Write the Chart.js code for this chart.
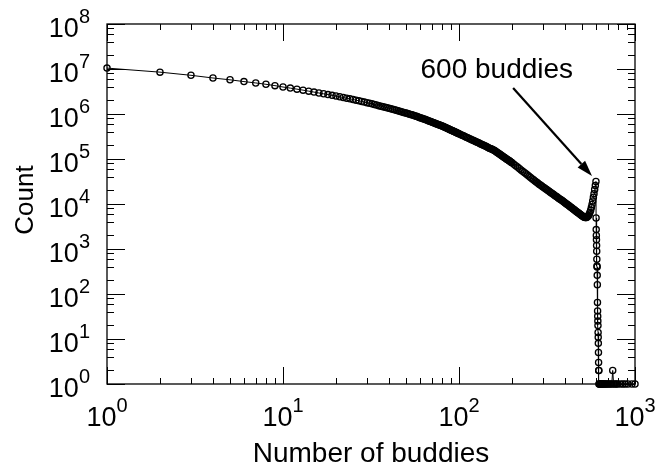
<!DOCTYPE html>
<html>
<head>
<meta charset="utf-8">
<script src="https://cdn.jsdelivr.net/npm/chart.js@4/dist/chart.umd.min.js"></script>
<style>
  html, body { margin: 0; padding: 0; background: #fff; }
  canvas { display: block; }
</style>
</head>
<body>
<canvas id="chart" width="658" height="473"></canvas>
<script>
// number of buddies (x) and how many users have it (y)
var buddies = [
  1, 2, 3, 4, 5, 6, 7, 8, 9, 10, 11, 12, 13, 14, 15, 16, 17, 18, 19, 20,
  21, 22, 23, 24, 25, 26, 27, 28, 29, 30, 31, 32, 33, 34, 35, 36, 37, 38, 39, 40,
  41, 42, 43, 44, 45, 46, 47, 48, 49, 50, 51, 52, 53, 54, 55, 56, 57, 58, 59, 60,
  61, 62, 63, 64, 65, 66, 67, 68, 69, 70, 71, 72, 73, 74, 75, 76, 77, 78, 79, 80,
  81, 82, 83, 84, 85, 86, 87, 88, 89, 90, 91, 92, 93, 94, 95, 96, 97, 98, 99, 100,
  102, 104, 106, 108, 110, 112, 114, 116, 118, 120, 122, 124, 126, 128, 130, 132,
  134, 136, 138, 140, 142, 144, 146, 148, 150, 152, 154, 156, 158, 160, 162, 164,
  166, 168, 170, 172, 174, 176, 178, 180, 182, 184, 186, 188, 190, 192, 194, 196,
  198, 200,
  205, 210, 215, 220, 225, 230, 235, 240, 245, 250, 255, 260, 265, 270, 275, 280,
  285, 290, 295, 300, 305, 310, 315, 320, 325, 330, 335, 340, 345, 350, 355, 360,
  365, 370, 375, 380, 385, 390, 395, 400, 405, 410, 415, 420, 425, 430, 435, 440,
  445, 450, 455, 460, 465, 470, 475, 480, 485, 490, 495, 500, 505, 510, 515, 520,
  525, 530, 535, 540, 545, 550, 555, 560, 565, 570, 575, 580, 585, 590, 595, 600,
  601, 602, 603, 604, 605, 606, 607, 608, 609, 610, 611, 612, 613, 614, 615, 616,
  617, 618, 619, 620, 621, 622, 623, 624,
  627, 630, 634, 638, 642, 647, 652, 658, 665, 672, 680, 690, 700, 712, 725, 738,
  747, 756, 770, 785, 800, 830, 855, 880, 912, 960, 1000
];
var counts = [
  10470000, 8510000, 7240000, 6310000, 5750000, 5250000, 4900000, 4570000, 4270000, 3980000,
  3760000, 3570000, 3390000, 3220000, 3070000, 2930000, 2810000, 2700000, 2600000, 2510000,
  2410000, 2320000, 2240000, 2170000, 2100000, 2030000, 1960000, 1900000, 1840000, 1780000,
  1730000, 1680000, 1630000, 1580000, 1530000, 1490000, 1450000, 1410000, 1380000, 1340000,
  1310000, 1270000, 1240000, 1210000, 1180000, 1150000, 1120000, 1100000, 1070000, 1050000,
  1025000, 1000000, 979000, 959000, 937000, 916000, 895000, 875000, 852000, 830000,
  812000, 794000, 777000, 760000, 742000, 724000, 708000, 692000, 678000, 664000,
  650000, 637000, 624000, 611000, 598000, 586000, 575000, 565000, 554000, 543000,
  531000, 519000, 508000, 498000, 488000, 478000, 468000, 458000, 449000, 440000,
  431000, 422000, 414000, 406000, 398000, 391000, 384000, 377000, 370000, 363000,
  350000, 338000, 327000, 316000, 306000, 296000, 287000, 278000, 269000, 261000,
  254000, 246000, 239000, 232000, 226000, 219000, 213000, 207000, 201000, 196000,
  191000, 186000, 181000, 176000, 172000, 168000, 164000, 160000, 156000, 152000,
  147000, 142000, 137500, 133000, 129000, 124500, 120500, 117000, 113000, 110000,
  107000, 103500, 100500, 97600, 94900, 92300, 89700, 87300, 84900, 82600,
  76500, 71000, 66000, 61500, 57300, 53600, 50100, 46900, 44000, 41400,
  38900, 36600, 34500, 32600, 30800, 29100, 27600, 26300, 25100, 23900,
  22900, 21800, 20900, 20000, 19100, 18300, 17600, 16900, 16200, 15500,
  14900, 14400, 13800, 13300, 12800, 12400, 11900, 11500, 11100, 10700,
  10300, 9920, 9570, 9240, 8910, 8600, 8310, 8030, 7760, 7510,
  7260, 7030, 6800, 6590, 6380, 6190, 6000, 5810, 5640, 5470,
  5310, 5190, 5070, 5010, 4990, 5010, 5130, 5310, 5560, 5960,
  6530, 7240, 8320, 9770, 11700, 14100, 17000, 20900, 25700, 31600,
  4900, 2700, 2000, 1600, 1200, 890, 590, 420, 400, 260, 160, 65,
  42, 32, 25, 20, 14, 11, 8, 5, 3, 2, 2, 1,
  1, 1, 1, 1, 1, 1, 1, 1, 1, 1, 1, 1, 1, 1, 1, 1,
  2, 1, 1, 1, 1, 1, 1, 1, 1, 1, 1
];

var xMajor = [1, 10, 100, 1000];
var xExp = ['0', '1', '2', '3'];
var xMinor = [2, 3, 4, 5, 6, 7, 8, 9, 20, 30, 40, 50, 60, 70, 80, 90, 200, 300, 400, 500, 600, 700, 800, 900];
var yMajor = [1, 10, 100, 1e3, 1e4, 1e5, 1e6, 1e7, 1e8];
var yExp = ['0', '1', '2', '3', '4', '5', '6', '7', '8'];
var yMinorMant = [2, 4, 6, 8];

var noteText = '600 buddies';
var notePos = [164, 6.3e6];
var arrowFrom = [203, 3.8e6];
var arrowTo = [570, 4.2e4];

var FONT = '"Liberation Sans", Arial, Helvetica, sans-serif';

var points = buddies.map(function (b, i) { return { x: b, y: counts[i] }; });

function seg(ctx, x1, y1, x2, y2) {
  ctx.beginPath();
  ctx.moveTo(x1, y1);
  ctx.lineTo(x2, y2);
  ctx.stroke();
}

var frame = {
  id: 'frame',
  afterDatasetsDraw: function (chart) {
    var ctx = chart.ctx, a = chart.chartArea;
    var xs = chart.scales.x, ys = chart.scales.y;
    ctx.save();
    ctx.strokeStyle = '#000';
    ctx.fillStyle = '#000';

    // box
    ctx.lineWidth = 1.3;
    ctx.strokeRect(a.left, a.top, a.right - a.left, a.bottom - a.top);

    // inward ticks
    ctx.lineWidth = 1;
    xMajor.forEach(function (v) {
      var px = Math.round(xs.getPixelForValue(v)) + 0.5;
      seg(ctx, px, a.bottom, px, a.bottom - 17);
      seg(ctx, px, a.top, px, a.top + 17);
    });
    xMinor.forEach(function (v) {
      var px = Math.round(xs.getPixelForValue(v)) + 0.5;
      seg(ctx, px, a.bottom, px, a.bottom - 6);
      seg(ctx, px, a.top, px, a.top + 6);
    });
    yMajor.forEach(function (v) {
      var py = Math.round(ys.getPixelForValue(v)) + 0.5;
      seg(ctx, a.left, py, a.left + 18, py);
      seg(ctx, a.right, py, a.right - 18, py);
    });
    for (var e = 0; e < 8; e++) {
      yMinorMant.forEach(function (m) {
        var py = Math.round(ys.getPixelForValue(m * Math.pow(10, e))) + 0.5;
        seg(ctx, a.left, py, a.left + 7, py);
        seg(ctx, a.right, py, a.right - 7, py);
      });
    }

    // tick labels: 10 with superscript
    ctx.textBaseline = 'alphabetic';
    var big = '27px ' + FONT, small = '20px ' + FONT;
    yMajor.forEach(function (v, i) {
      var py = ys.getPixelForValue(v);
      var right = a.left - 17;
      ctx.font = small;
      var ew = ctx.measureText(yExp[i]).width;
      ctx.textAlign = 'left';
      ctx.fillText(yExp[i], right - ew, py - 1);
      ctx.font = big;
      ctx.textAlign = 'right';
      ctx.fillText('10', right - ew, py + 13);
    });
    xMajor.forEach(function (v, i) {
      var px = xs.getPixelForValue(v);
      ctx.font = big;
      var bw = ctx.measureText('10').width;
      ctx.font = small;
      var ew = ctx.measureText(xExp[i]).width;
      var start = px - (bw + ew) / 2;
      ctx.textAlign = 'left';
      ctx.font = big;
      ctx.fillText('10', start, a.bottom + 42);
      ctx.font = small;
      ctx.fillText(xExp[i], start + bw, a.bottom + 28);
    });

    // axis titles
    ctx.font = '28px ' + FONT;
    ctx.textAlign = 'center';
    ctx.fillText('Number of buddies', (a.left + a.right) / 2, 462);
    ctx.save();
    ctx.translate(33, (a.top + a.bottom) / 2 - 4);
    ctx.rotate(-Math.PI / 2);
    ctx.font = '26px ' + FONT;
    ctx.fillText('Count', 0, 0);
    ctx.restore();

    // annotation
    ctx.font = '28px ' + FONT;
    ctx.textAlign = 'center';
    ctx.fillText(noteText, xs.getPixelForValue(notePos[0]), ys.getPixelForValue(notePos[1]));
    var x0 = xs.getPixelForValue(arrowFrom[0]), y0 = ys.getPixelForValue(arrowFrom[1]);
    var x1 = xs.getPixelForValue(arrowTo[0]), y1 = ys.getPixelForValue(arrowTo[1]);
    var ang = Math.atan2(y1 - y0, x1 - x0);
    var hl = 16, hw = 5;
    var bx = x1 - hl * Math.cos(ang), by = y1 - hl * Math.sin(ang);
    ctx.lineWidth = 2.2;
    seg(ctx, x0, y0, bx, by);
    ctx.beginPath();
    ctx.moveTo(x1, y1);
    ctx.lineTo(bx + hw * Math.sin(ang), by - hw * Math.cos(ang));
    ctx.lineTo(bx - hw * Math.sin(ang), by + hw * Math.cos(ang));
    ctx.closePath();
    ctx.fill();

    ctx.restore();
  }
};

new Chart(document.getElementById('chart'), {
  type: 'line',
  data: {
    datasets: [{
      data: points,
      borderColor: '#000',
      borderWidth: 1,
      pointRadius: 3.1,
      pointBorderWidth: 1.3,
      pointBorderColor: '#000',
      pointBackgroundColor: 'rgba(0,0,0,0)',
      pointStyle: 'circle',
      tension: 0,
      clip: false
    }]
  },
  options: {
    responsive: false,
    animation: false,
    devicePixelRatio: 1,
    layout: { padding: { left: 107, right: 23, top: 24, bottom: 89 } },
    plugins: { legend: { display: false }, tooltip: { enabled: false } },
    scales: {
      x: { type: 'logarithmic', min: 1, max: 1000, display: false },
      y: { type: 'logarithmic', min: 1, max: 1e8, display: false }
    }
  },
  plugins: [frame]
});
</script>
</body>
</html>
